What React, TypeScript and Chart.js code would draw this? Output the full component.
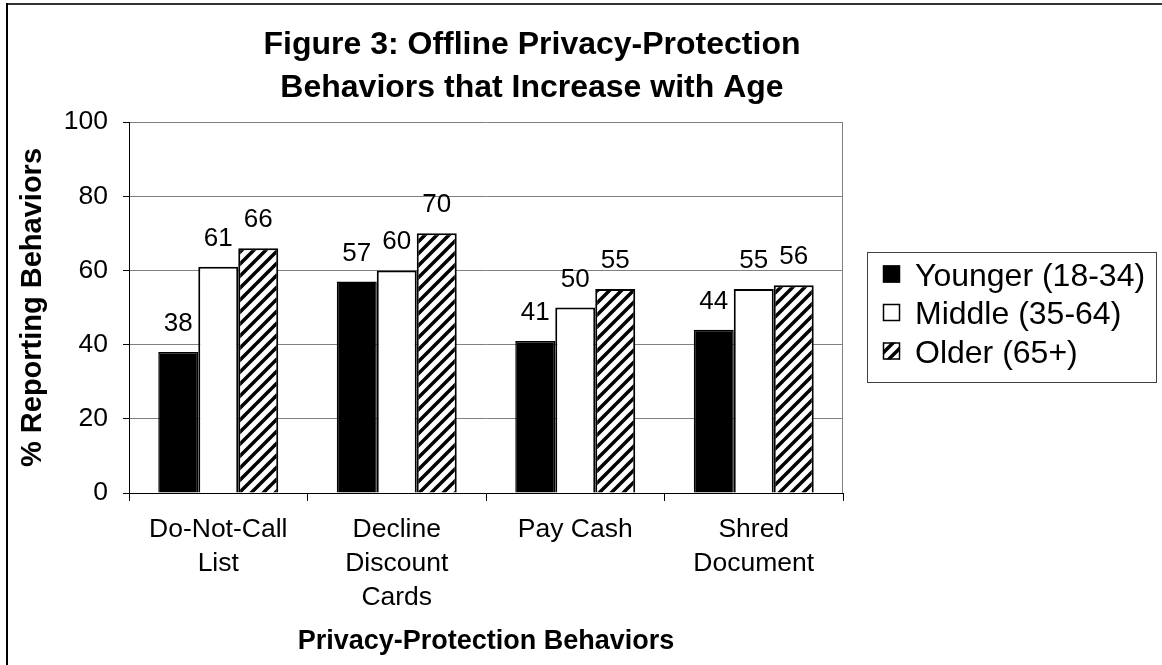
import React, { useEffect, useRef } from 'react';
import { Chart, registerables } from 'chart.js';

Chart.register(...registerables);

const categories: string[][] = [
  ['Do-Not-Call', 'List'],
  ['Decline', 'Discount', 'Cards'],
  ['Pay Cash'],
  ['Shred', 'Document'],
];
const seriesNames = ['Younger (18-34)', 'Middle (35-64)', 'Older (65+)'];
const younger = [38, 57, 41, 44];
const middle = [61, 60, 50, 55];
const older = [66, 70, 55, 56];
const yTicks = [0, 20, 40, 60, 80, 100];
const titleLines = ['Figure 3: Offline Privacy-Protection', 'Behaviors that Increase with Age'];
const xTitle = 'Privacy-Protection Behaviors';
const yTitle = '% Reporting Behaviors';

const FONT = '"Liberation Sans", Arial, sans-serif';

function makeHatch(): CanvasPattern | string {
  const c = document.createElement('canvas');
  c.width = 12;
  c.height = 12;
  const g = c.getContext('2d');
  if (!g) return '#888';
  g.fillStyle = '#fff';
  g.fillRect(0, 0, 12, 12);
  g.strokeStyle = '#000';
  g.lineWidth = 3.5;
  g.beginPath();
  g.moveTo(-3, 15);
  g.lineTo(15, -3);
  g.moveTo(-3, 3);
  g.lineTo(3, -3);
  g.moveTo(9, 15);
  g.lineTo(15, 9);
  g.stroke();
  return g.createPattern(c, 'repeat') || '#888';
}

const decorPlugin = {
  id: 'decor',
  beforeDraw(chart: any) {
    const { ctx, width, height } = chart;
    ctx.save();
    ctx.fillStyle = '#fff';
    ctx.fillRect(0, 0, width, height);
    ctx.fillStyle = '#333';
    ctx.fillRect(6, 3, width - 6, 2);
    ctx.fillStyle = '#000';
    ctx.fillRect(6, 3, 2, height - 3);
    ctx.restore();
  },
  beforeDatasetsDraw(chart: any) {
    const { ctx, chartArea } = chart;
    ctx.save();
    ctx.strokeStyle = '#808080';
    ctx.lineWidth = 1;
    ctx.beginPath();
    ctx.moveTo(Math.round(chartArea.right) - 0.5, chartArea.top);
    ctx.lineTo(Math.round(chartArea.right) - 0.5, chartArea.bottom);
    ctx.stroke();
    ctx.restore();
  },
  afterDatasetsDraw(chart: any) {
    const { ctx } = chart;
    ctx.save();
    ctx.font = `26px ${FONT}`;
    ctx.fillStyle = '#000';
    ctx.textAlign = 'center';
    ctx.textBaseline = 'alphabetic';
    chart.data.datasets.forEach((ds: any, i: number) => {
      const meta = chart.getDatasetMeta(i);
      meta.data.forEach((el: any, j: number) => {
        ctx.fillText(String(ds.data[j]), el.x, el.y - 21);
      });
    });
    ctx.restore();
  },
  afterDraw(chart: any) {
    const { ctx } = chart;
    ctx.save();
    // Title
    ctx.font = `bold 32px ${FONT}`;
    ctx.fillStyle = '#000';
    ctx.textAlign = 'center';
    ctx.textBaseline = 'alphabetic';
    ctx.fillText(titleLines[0], 532, 54);
    ctx.fillText(titleLines[1], 532, 97);

    // Legend
    const bx = 867.5, by = 252.5, bw = 289, bh = 130;
    ctx.strokeStyle = '#404040';
    ctx.lineWidth = 1;
    ctx.strokeRect(bx, by, bw, bh);
    ctx.font = `32px ${FONT}`;
    ctx.textAlign = 'left';
    const rows = [274, 312.5, 351];
    chart.data.datasets.forEach((ds: any, i: number) => {
      const cy = rows[i];
      ctx.fillStyle = ds.backgroundColor;
      ctx.fillRect(883, cy - 8.5, 17, 17);
      ctx.strokeStyle = '#000';
      ctx.lineWidth = 1.5;
      ctx.strokeRect(883.5, cy - 8, 16, 16);
      ctx.fillStyle = '#000';
      ctx.fillText(ds.label, 915, cy + 11.5);
    });
    ctx.restore();
  },
};

export default function App() {
  const ref = useRef<HTMLCanvasElement | null>(null);

  useEffect(() => {
    document.body.style.margin = '0';
    const canvas = ref.current;
    if (!canvas) return;
    const hatch = makeHatch();
    const chart = new Chart(canvas, {
      type: 'bar',
      data: {
        labels: categories,
        datasets: [
          {
            label: seriesNames[0],
            data: younger,
            backgroundColor: '#000',
            borderColor: '#000',
            borderWidth: 1.5,
          },
          {
            label: seriesNames[1],
            data: middle,
            backgroundColor: '#fff',
            borderColor: '#000',
            borderWidth: 2,
          },
          {
            label: seriesNames[2],
            data: older,
            backgroundColor: hatch as any,
            borderColor: '#000',
            borderWidth: 2,
          },
        ],
      },
      options: {
        responsive: false,
        animation: false,
        events: [],
        layout: { padding: { top: 122, right: 319, bottom: 0, left: 0 } },
        datasets: {
          bar: { categoryPercentage: 0.672, barPercentage: 1 },
        },
        plugins: {
          legend: { display: false },
          title: { display: false },
          tooltip: { enabled: false },
        },
        scales: {
          x: {
            offset: true,
            afterFit: (s: any) => {
              s.height = 172;
            },
            grid: {
              display: true,
              drawOnChartArea: false,
              drawTicks: true,
              tickLength: 8,
              tickColor: '#000',
              offset: true,
            },
            border: { color: '#000', width: 1 },
            ticks: {
              color: '#000',
              padding: 12,
              maxRotation: 0,
              autoSkip: false,
              font: { family: FONT, size: 26.5, lineHeight: 1.283 },
            },
            title: {
              display: true,
              text: xTitle,
              color: '#000',
              font: { family: FONT, size: 27, weight: 'bold', lineHeight: 1.2 },
              padding: { top: 0, bottom: 7 },
            },
          },
          y: {
            min: yTicks[0],
            max: yTicks[yTicks.length - 1],
            afterFit: (s: any) => {
              s.width = 129;
            },
            afterBuildTicks: (s: any) => {
              s.ticks = yTicks.map((v) => ({ value: v }));
            },
            grid: {
              color: '#808080',
              lineWidth: 1,
              tickLength: 6,
              tickColor: '#000',
            },
            border: { color: '#000', width: 1 },
            ticks: {
              color: '#000',
              padding: 15,
              font: { family: FONT, size: 26.5 },
            },
            title: {
              display: true,
              text: yTitle,
              color: '#000',
              font: { family: FONT, size: 29, weight: 'bold', lineHeight: 1.2 },
              padding: { top: 16, bottom: 0 },
            },
          },
        },
      },
      plugins: [decorPlugin],
    });
    return () => chart.destroy();
  }, []);

  return (
    <div style={{ width: 1162, height: 665, overflow: 'hidden' }}>
      <canvas ref={ref} width={1162} height={665} style={{ display: 'block' }} />
    </div>
  );
}
